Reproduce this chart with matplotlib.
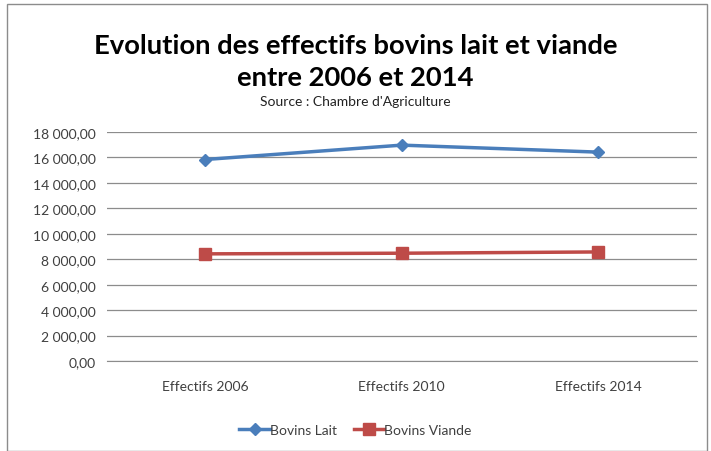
import matplotlib
matplotlib.use("Agg")
import matplotlib.pyplot as plt
from matplotlib.ticker import FuncFormatter, MultipleLocator
from matplotlib.patches import Rectangle

categories = ["Effectifs 2006", "Effectifs 2010", "Effectifs 2014"]
lait = [15830, 16960, 16410]
viande = [8420, 8470, 8570]
series_names = ["Bovins Lait", "Bovins Viande"]

plt.rcParams['font.family'] = ['Lato', 'DejaVu Sans']

fig = plt.figure(figsize=(7.11, 4.52), dpi=100)
ax = fig.add_axes([0.150, 0.199, 0.830, 0.507])

x = list(range(len(categories)))
ax.plot(x, lait, color="#4A7EBB", lw=2.5, marker="D", ms=6.5, label=series_names[0])
ax.plot(x, viande, color="#BE4B48", lw=2.5, marker="s", ms=8, label=series_names[1])

ax.set_xlim(-0.5, 2.5)
ax.set_ylim(0, 18000)
ax.yaxis.set_major_locator(MultipleLocator(2000))
def fmt(v, p):
    s = f"{int(round(v)):,}".replace(",", " ")
    return s + ",00"
ax.yaxis.set_major_formatter(FuncFormatter(fmt))
ax.set_xticks(x)
ax.set_xticklabels(categories)
ax.grid(axis="y", color="#8C8C8C", lw=0.9)
ax.set_axisbelow(True)
for s in ["top", "right", "left"]:
    ax.spines[s].set_visible(False)
ax.spines["bottom"].set_color("#8C8C8C")
ax.tick_params(axis="both", length=0, labelsize=10, colors="#404040", pad=8)
ax.tick_params(axis="x", pad=14)

fig.text(0.5, 0.898, "Evolution des effectifs bovins lait et viande", ha="center", va="center",
         fontsize=19.7, fontweight="bold", color="black")
fig.text(0.5, 0.828, "entre 2006 et 2014", ha="center", va="center",
         fontsize=19.7, fontweight="bold", color="black")
fig.text(0.5, 0.775, "Source : Chambre d'Agriculture", ha="center", va="center",
         fontsize=10, color="#222222")

fig.legend(loc="center", bbox_to_anchor=(0.5, 0.047), ncol=2, frameon=False,
           fontsize=10, handlelength=2.2, columnspacing=1.2, handletextpad=0.0,
           labelcolor="#404040")

fig.patches.append(Rectangle((0.010, 0.0), 0.985, 0.99, transform=fig.transFigure,
                             fill=False, edgecolor="#8C8C8C", lw=1))

fig.savefig("out.png", dpi=100)
